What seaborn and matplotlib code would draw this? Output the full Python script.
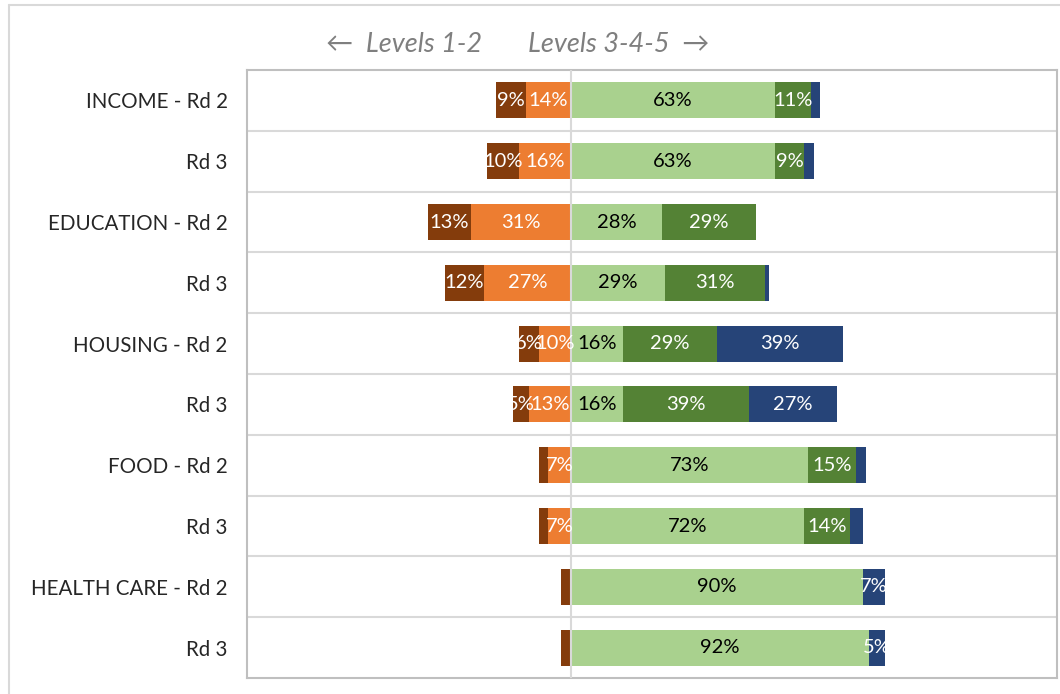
import matplotlib
matplotlib.use('Agg')
import matplotlib.pyplot as plt
from matplotlib.lines import Line2D
import numpy as np
import pandas as pd
import seaborn as sns

# Row labels (shown) and unique keys (for seaborn's categorical axis)
labels = ["INCOME - Rd 2", "Rd 3", "EDUCATION - Rd 2", "Rd 3", "HOUSING - Rd 2",
          "Rd 3", "FOOD - Rd 2", "Rd 3", "HEALTH CARE - Rd 2", "Rd 3"]
keys = ["income_2", "income_3", "education_2", "education_3", "housing_2",
        "housing_3", "food_2", "food_3", "health_2", "health_3"]

# Percent of respondents at each level
level1 = [9, 10, 13, 12, 6, 5, 3, 3, 3, 3]
level2 = [14, 16, 31, 27, 10, 13, 7, 7, 0, 0]
level3 = [63, 63, 28, 29, 16, 16, 73, 72, 90, 92]
level4 = [11, 9, 29, 31, 29, 39, 15, 14, 0, 0]
level5 = [3, 3, 0, 1, 39, 27, 3, 4, 7, 5]

c1, c2, c3, c4, c5 = '#843c0c', '#ed7d31', '#a9d18e', '#548235', '#264478'
txt_col = ['white', 'white', 'black', 'white', 'white']

df = pd.DataFrame({'key': keys, 'l1': level1, 'l2': level2, 'l3': level3,
                   'l4': level4, 'l5': level5})
df['left12'] = -(df.l1 + df.l2)
df['left2'] = -df.l2
df['r345'] = df.l3 + df.l4 + df.l5
df['r34'] = df.l3 + df.l4
df['r3'] = df.l3

sns.set_style('white')
plt.rcParams['font.family'] = ['Lato', 'DejaVu Sans']

fig = plt.figure(figsize=(10.6, 6.94), dpi=100)
ax = fig.add_axes([247 / 1060, 1 - 678 / 694, 810 / 1060, 608 / 694])

# overlapping cumulative bars make the diverging stack
for col, c in [('left12', c1), ('left2', c2), ('r345', c5), ('r34', c4), ('r3', c3)]:
    sns.barplot(data=df, x=col, y='key', order=keys, color=c, saturation=1,
                width=0.59, orient='h', linewidth=0, ax=ax, zorder=2)

# data labels
for i, row in df.iterrows():
    segs = [(-(row.l1 + row.l2), row.l1), (-row.l2, row.l2),
            (0, row.l3), (row.l3, row.l4), (row.l3 + row.l4, row.l5)]
    for k, (start, v) in enumerate(segs):
        if v >= 5:
            ax.text(start + v / 2, i, f'{v}%', ha='center', va='center',
                    color=txt_col[k], fontsize=14.5, zorder=5)

for b in np.arange(0.5, 9.5, 1):
    ax.axhline(b, color='#d9d9d9', lw=1.5, zorder=0)
ax.axvline(0, color='#d9d9d9', lw=1.5, zorder=3)

ax.set_xlim(-100, 150)
ax.set_ylim(9.5, -0.5)
ax.set_xticks([])
ax.set_xlabel('')
ax.set_ylabel('')
ax.set_yticks(range(len(labels)))
ax.set_yticklabels(labels, fontsize=14.8)
ax.tick_params(axis='y', length=0, pad=14)
for s in ax.spines.values():
    s.set_color('#bfbfbf')
    s.set_linewidth(1.5)

fig.text(482 / 1060, 1 - 45 / 694, '\u2190  Levels 1-2', ha='right', va='center',
         color='#7f7f7f', fontsize=19.5, style='italic')
fig.text(528 / 1060, 1 - 45 / 694, 'Levels 3-4-5  \u2192', ha='left', va='center',
         color='#7f7f7f', fontsize=19.5, style='italic')

# outer chart-area border (only left and top edges visible)
fig.add_artist(Line2D([9 / 1060, 9 / 1060], [0, 1 - 5 / 694], color='#d9d9d9', lw=1.5))
fig.add_artist(Line2D([9 / 1060, 1], [1 - 5 / 694, 1 - 5 / 694], color='#d9d9d9', lw=1.5))

fig.savefig('out.png', dpi=100)
